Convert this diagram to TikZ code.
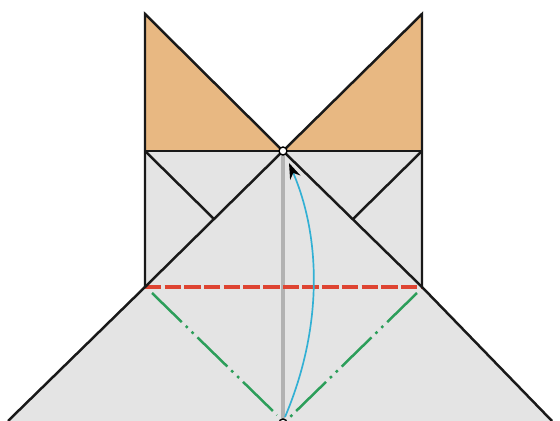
\documentclass[tikz,border=0pt]{standalone}
\usepackage{tikz}
\usetikzlibrary{arrows.meta}

\definecolor{paperface}{RGB}{228,228,228}
\definecolor{paperback}{RGB}{232,184,130}
\definecolor{foldred}{RGB}{222,68,50}
\definecolor{foldgreen}{RGB}{44,158,90}
\definecolor{foldblue}{RGB}{50,176,212}

\begin{document}
\begin{tikzpicture}[
    x=0.025cm, y=-0.025cm,
    edge/.style={line width=0.62mm, black!90},
    crease/.style={line width=0.78mm, black!30},
    valley/.style={line width=0.78mm, foldred, dash pattern=on 4.1mm off 0.82mm},
    mountain/.style={line width=0.62mm, foldgreen, dash pattern=on 10.4mm off 1.4mm on 0.65mm off 1.4mm on 0.65mm off 1.4mm},
    arr/.style={-{Stealth[length=4mm, width=2.8mm, black]}, line width=0.42mm, foldblue},
    pivot/.style={circle, draw=black, fill=white, line width=0.35mm, inner sep=0pt, minimum size=2mm}
  ]
    \useasboundingbox (0,0) rectangle (560,421);

    \coordinate (tipl) at (145,14);
    \coordinate (tipr) at (422,14);
    \coordinate (midl) at (145,151);
    \coordinate (midr) at (422,151);
    \coordinate (lowl) at (145,287);
    \coordinate (lowr) at (422,287);
    \coordinate (footl) at (8,421);
    \coordinate (footr) at (552,421);
    \coordinate (innerl) at (214,219);
    \coordinate (innerr) at (353,219);
    \coordinate (center) at (283,151);
    \coordinate (bottom) at (283,423);
    \coordinate (arcstart) at (285,417);
    \coordinate (arcend) at (289,163);
    \coordinate (greenla) at (152,293);
    \coordinate (greenlb) at (277,415);
    \coordinate (greenra) at (417,293);
    \coordinate (greenrb) at (288,419);

    % paper
    \fill[paperface] (midl) -- (midr) -- (lowr) -- (footr) -- (footl) -- (lowl) -- cycle;
    \fill[paperback] (tipl) -- (center) -- (midl) -- cycle;
    \fill[paperback] (tipr) -- (center) -- (midr) -- cycle;

    % folds
    \draw[crease] (center) -- (bottom);
    \draw[valley] (lowl) -- (lowr);
    \draw[mountain] (greenla) -- (greenlb);
    \draw[mountain] (greenra) -- (greenrb);

    % outline
    \draw[edge, line join=miter] (center) -- (tipl) -- (lowl);
    \draw[edge, line join=miter] (center) -- (tipr) -- (lowr);
    \draw[edge] (midl) -- (midr);
    \draw[edge] (midl) -- (innerl);
    \draw[edge] (midr) -- (innerr);
    \draw[edge] (center) -- (lowl) -- (footl);
    \draw[edge] (center) -- (lowr) -- (footr);

    \draw[arr] (arcstart) .. controls (322,330) and (322,240) .. (arcend);

    \node[pivot] (hinge) at (center) {};
    \node[pivot] (foot) at (bottom) {};
  \end{tikzpicture}
\end{document}
